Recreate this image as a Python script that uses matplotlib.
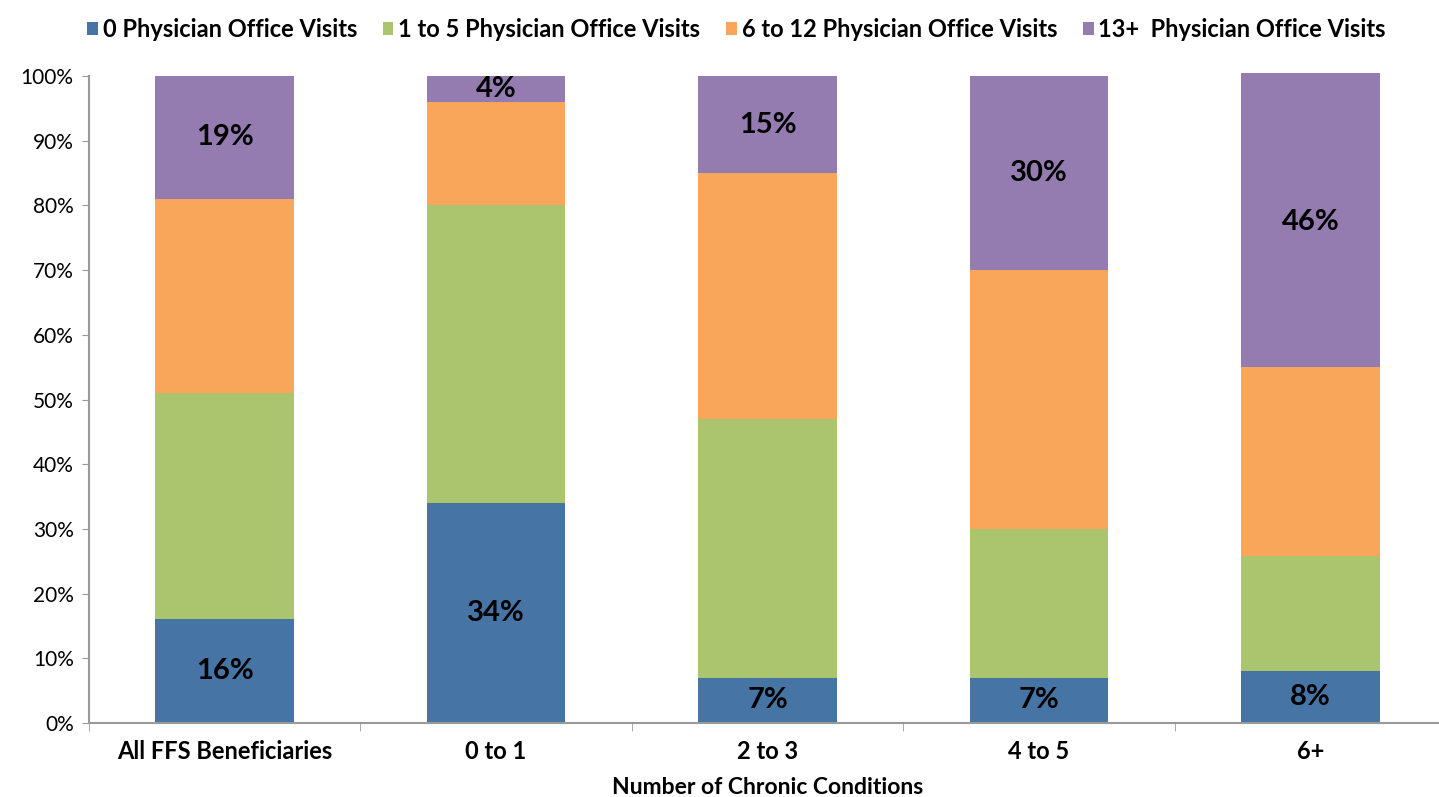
import numpy as np
from matplotlib import pyplot as plt

# data
categories = ['All FFS Beneficiaries', '0 to 1', '2 to 3', '4 to 5', '6+']
series_names = ['0 Physician Office Visits', '1 to 5 Physician Office Visits',
                '6 to 12 Physician Office Visits', '13+  Physician Office Visits']
visits_0 = [16, 34, 7, 7, 8]
visits_1_5 = [35, 46, 40, 23, 17.8]
visits_6_12 = [30, 16, 38, 40, 29.2]
visits_13 = [19, 4, 15, 30, 45.5]
labels_0 = ['16%', '34%', '7%', '7%', '8%']
labels_13 = ['19%', '4%', '15%', '30%', '46%']

colors = ['#4674A5', '#AAC56E', '#F9A65A', '#947CB0']

plt.rcParams['font.family'] = ['Lato', 'DejaVu Sans']

fig = plt.figure(figsize=(14.39, 7.97), dpi=100)
ax = fig.add_axes([89 / 1439, 74 / 797, 1357 / 1439, 647 / 797])

x = np.arange(len(categories))
width = 0.51
bottom = np.zeros(len(categories))
all_series = [visits_0, visits_1_5, visits_6_12, visits_13]
containers = []
for vals, name, col in zip(all_series, series_names, colors):
    bars = ax.bar(x, vals, width, bottom=bottom, color=col, label=name,
                  clip_on=False, zorder=2)
    containers.append(bars)
    bottom = bottom + np.array(vals)

# labels on the bottom and top segments
ax.bar_label(containers[0], labels=labels_0, label_type='center',
             fontsize=21, fontweight='bold', color='black')
ax.bar_label(containers[3], labels=labels_13, label_type='center',
             fontsize=21, fontweight='bold', color='black')

ax.set_xlim(-0.5, len(categories) - 0.5)
ax.set_ylim(0, 100)
ax.set_yticks(np.arange(0, 101, 10))
ax.set_yticklabels([f'{v}%' for v in range(0, 101, 10)], fontsize=15)
ax.set_xticks(x)
ax.set_xticklabels(categories, fontsize=17, fontweight='bold')
ax.set_xticks(np.arange(-0.5, len(categories)), minor=True)
ax.tick_params(axis='x', which='major', length=0, pad=12)
ax.tick_params(axis='x', which='minor', length=6, color='#999999')
ax.tick_params(axis='y', length=5, color='#999999', pad=6)

for side in ['top', 'right']:
    ax.spines[side].set_visible(False)
ax.spines['left'].set_color('#999999')
ax.spines['bottom'].set_color('#999999')
ax.spines['left'].set_linewidth(1.5)
ax.spines['bottom'].set_linewidth(1.5)

ax.set_xlabel('Number of Chronic Conditions', fontsize=16.5, fontweight='bold',
              labelpad=10)

ax.legend(loc='lower center', bbox_to_anchor=(0.5 - 31 / 1357, 1.04), ncol=4,
          frameon=False, prop={'weight': 'bold', 'size': 17},
          handlelength=0.45, handleheight=0.45, handletextpad=0.2,
          columnspacing=1.1, borderaxespad=0)

fig.savefig('out.png', dpi=100)
